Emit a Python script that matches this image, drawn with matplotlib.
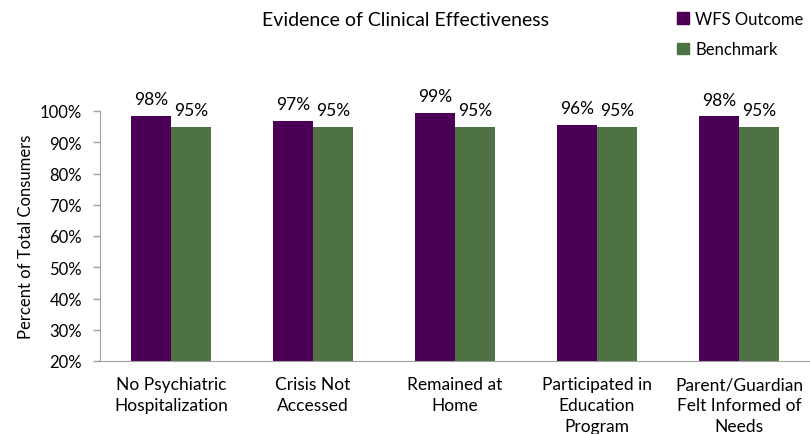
import matplotlib
matplotlib.use("Agg")
import matplotlib.pyplot as plt
import numpy as np
from matplotlib.patches import Patch

categories = ["No Psychiatric\nHospitalization", "Crisis Not\nAccessed", "Remained at\nHome",
              "Participated in\nEducation\nProgram", "Parent/Guardian\nFelt Informed of\nNeeds"]
wfs_outcome = [98.4, 96.8, 99.4, 95.5, 98.3]
benchmark = [95, 95, 95, 95, 95]
series_names = ["WFS Outcome", "Benchmark"]
yticks = [20, 30, 40, 50, 60, 70, 80, 90, 100]

purple = "#4B0055"
green = "#4F7245"

plt.rcParams['font.family'] = ['Lato', 'DejaVu Sans']

fig = plt.figure(figsize=(8.1, 4.35), dpi=100)
ax = fig.add_axes([100/810, 73/435, 710/810, 250/435])

x = np.arange(len(categories))
w = 0.282
ax.bar(x - w/2, wfs_outcome, w, bottom=0, color=purple, label=series_names[0])
ax.bar(x + w/2, benchmark, w, bottom=0, color=green, label=series_names[1])

for xi, v in zip(x - w/2, wfs_outcome):
    ax.text(xi, v + 2.8, f"{v:.0f}%", ha="center", va="bottom", fontsize=12.5, color="#000000", clip_on=False)
for xi, v in zip(x + w/2, benchmark):
    ax.text(xi, v + 2.8, f"{v:.0f}%", ha="center", va="bottom", fontsize=12.5, color="#000000", clip_on=False)

ax.set_ylim(20, 100)
ax.set_xlim(-0.5, 4.5)
ax.set_yticks(yticks)
ax.set_yticklabels([f"{t}%" for t in yticks], fontsize=12)
ax.set_xticks(x)
ax.set_xticklabels(categories, fontsize=12.5, linespacing=1.38)
ax.tick_params(axis="x", length=0, pad=11)
ax.tick_params(axis="y", length=5, color="#A0A0A0", width=1, pad=8)
for s in ["top", "right"]:
    ax.spines[s].set_visible(False)
for s in ["left", "bottom"]:
    ax.spines[s].set_color("#A0A0A0")
ax.set_ylabel("Percent of Total Consumers", fontsize=12, labelpad=4)

fig.text(405/810, 1 - 20/435, "Evidence of Clinical Effectiveness", ha="center", va="center", fontsize=14)

handles = [Patch(color=purple), Patch(color=green)]
fig.legend(handles, series_names, loc="upper left", bbox_to_anchor=(662/810, 1 + 3/435),
           frameon=False, fontsize=12, handlelength=0.7, handleheight=0.7,
           handletextpad=0.4, labelspacing=0.85)

fig.savefig("out.png", dpi=100)
